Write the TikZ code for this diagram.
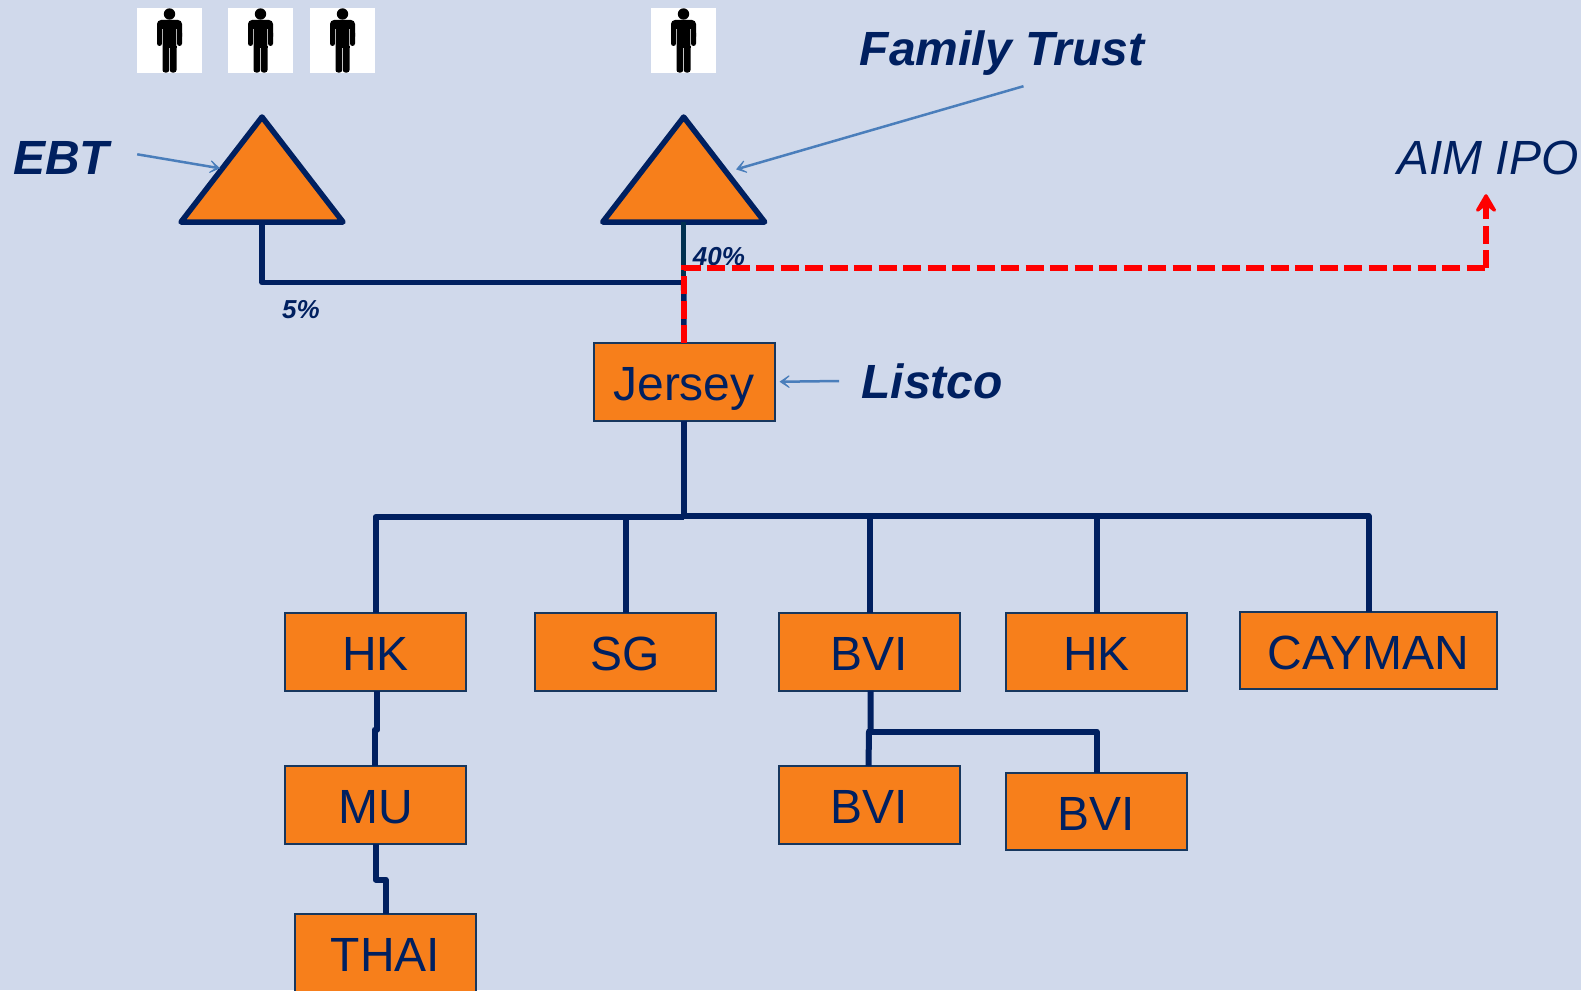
\documentclass[tikz,border=0pt]{standalone}
\usepackage{fontspec}
\setmainfont{Liberation Sans}
\usetikzlibrary{shapes.geometric,arrows.meta}
\definecolor{bgblue}{HTML}{D0D9EB}
\definecolor{navy}{HTML}{002060}
\definecolor{boxline}{HTML}{17375E}
\definecolor{boxorange}{HTML}{F77F1B}
\definecolor{stemteal}{HTML}{003050}
\definecolor{pointerblue}{HTML}{4A7EBB}
\tikzset{
  entity/.style={draw=boxline, line width=2pt, fill=boxorange, text=navy, inner sep=0pt, outer sep=0pt,
    minimum height=77.5pt, minimum width=181pt, text height=38pt, text depth=0pt, font=\fontsize{48}{56}\selectfont},
  trust/.style={isosceles triangle, isosceles triangle stretches, shape border rotate=90, draw=navy,
    line width=5.5pt, line join=round, fill=boxorange, inner sep=0pt, outer sep=0pt,
    minimum width=162pt, minimum height=105pt},
  owner/.style={fill=white, inner sep=0pt, minimum size=65pt},
  tag/.style={text=navy, inner sep=0pt, text height=35pt, text depth=0pt, font=\fontsize{48}{56}\selectfont\bfseries\itshape},
  pct/.style={text=navy, inner sep=0pt, font=\fontsize{26}{30}\selectfont\bfseries\itshape},
  conn/.style={draw=navy, line width=6pt, line join=round},
  pointer/.style={draw=pointerblue, line width=2.5pt, -{Stealth[length=15pt,width=20pt,inset=11pt]}},
  ipo/.style={draw=red, line width=6pt, dash pattern=on 18pt off 6.5pt},
  person/.pic={
    \fill[black] (0,-26.5) circle (5.7pt);
    \fill[black,rounded corners=4pt] (-12.5,-20.5) rectangle (12.5,0);
    \fill[black,rounded corners=2.5pt] (-12.5,-10) rectangle (-7.5,5.5);
    \fill[black,rounded corners=2.5pt] (7.5,-10) rectangle (12.5,5.5);
    \fill[black] (-7,-15) rectangle (7,8);
    \fill[black,rounded corners=2.5pt] (-7,0) rectangle (-0.3,32);
    \fill[black,rounded corners=2.5pt] (0.3,0) rectangle (7,32);
    \draw[white!70!black,line width=0.7pt] (-7.3,-11) -- (-7.3,6);
    \draw[white!70!black,line width=0.7pt] (7.3,-11) -- (7.3,6);
  }
}
\begin{document}
\begin{tikzpicture}[x=1pt,y=-1pt]
\useasboundingbox (0,0) rectangle (1581,990);
\clip (0,0) rectangle (1581,990);
\fill[bgblue] (0,0) rectangle (1581,990);

\node [owner] (owner1) at (169.5,40.5) {};
\node [owner] (owner2) at ([xshift=91pt]owner1.center) {};
\node [owner] (owner3) at ([xshift=82pt]owner2.center) {};
\node [owner] (owner4) at (683.5,40.5) {};
\pic at (owner1) {person};
\pic at (owner2) {person};
\pic at (owner3) {person};
\pic at (owner4) {person};

\node [trust, anchor=lower side] (ebttri) at (262,222) {};
\node [trust, anchor=lower side] (familytri) at (683.7,222) {};

\node [entity, anchor=north] (jersey) at (684,343) {Jersey};
\node [entity, anchor=north west] (hk1) at (285,613) {HK};
\node [entity, anchor=south west] (sg) at ([xshift=69pt]hk1.south east) {SG};
\node [entity, anchor=south west] (bvi1) at ([xshift=63pt]sg.south east) {BVI};
\node [entity, anchor=south west] (hk2) at ([xshift=46pt]bvi1.south east) {HK};
\node [entity, anchor=south west, minimum width=257pt] (cayman) at ([xshift=53pt,yshift=1.5pt]hk2.south east) {CAYMAN};
\node [entity, anchor=north] (mu) at ([yshift=-75.5pt]hk1.south) {MU};
\node [entity, anchor=north] (thai) at ([xshift=10pt,yshift=-70.5pt]mu.south) {THAI};
\node [entity, anchor=north] (bvi2) at ([yshift=-75.5pt]bvi1.south) {BVI};
\node [entity, anchor=north] (bvi3) at ([yshift=-82pt]hk2.south) {BVI};

\node [tag] (ebt) at (61,157) {EBT};
\node [tag] (family) at (1002,48) {Family Trust};
\node [tag] (listco) at (932,381) {Listco};
\node [tag, font=\fontsize{48}{56}\selectfont\itshape] (aim) at (1488,157) {AIM IPO};
\node [pct] (pct40) at (719,257) {40\%};
\node [pct] (pct5) at (301,310) {5\%};

\coordinate (junction) at (683.7,282.5);
\coordinate (busleft) at (684,517);
\coordinate (busright) at (684,516);

\draw [conn, line width=5.5pt] (ebttri.lower side) |- (junction);
\draw [conn, draw=stemteal, line width=5.5pt] (familytri.lower side) -- (junction);
\draw [conn, line width=5.5pt] (junction) -- (jersey.north);

\draw [conn] (jersey.south) -- (busleft);
\draw [conn] (busleft) -| (hk1.north);
\draw [conn] (busleft) -| (sg.north);
\draw [conn] (busright) -| (bvi1.north);
\draw [conn] (busright) -| (hk2.north);
\draw [conn] (busright) -| (cayman.north);

\draw [conn] ([xshift=1.5pt]hk1.south) -- ++(0,39) -- ++(-2.5,0) -- ([xshift=-1pt]mu.north);
\draw [conn] (mu.south) -- ++(0,36) -- ++(10,0) -- (thai.north);
\draw [conn] ([xshift=1pt]bvi1.south) -- ++(0,41) -- ++(-1.5,0) -- ([xshift=-1pt]bvi2.north);
\draw [conn] ([xshift=-0.5pt,yshift=-41pt]bvi1.south) -| (bvi3.north);

\draw [pointer] ([xshift=28pt,yshift=2.7pt]ebt.east) -- ([xshift=-42pt,yshift=53.7pt]ebttri.lower side);
\draw [pointer] ([xshift=21.5pt,yshift=-20.5pt]family.south) -- ([xshift=52.3pt,yshift=52.6pt]familytri.lower side);
\draw [pointer] ([xshift=-22pt]listco.west) -- ([xshift=5pt]jersey.east);

\draw [ipo] (jersey.north) |- (1486,268) coordinate (ipocorner);
\draw [ipo, -{Stealth[length=24pt,width=28pt,inset=11pt,round]}] (ipocorner) -- ([yshift=-19.5pt]aim.south -| ipocorner);
\end{tikzpicture}
\end{document}
